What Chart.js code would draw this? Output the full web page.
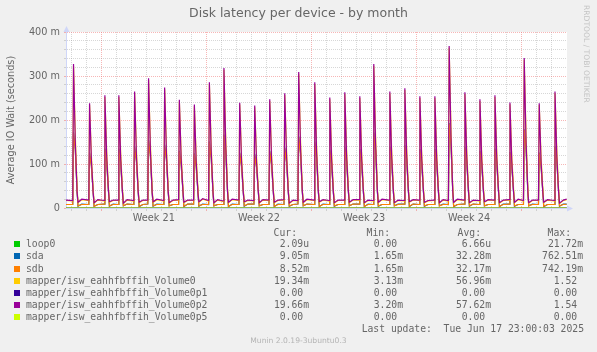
<!DOCTYPE html>
<html lang="en">
<head>
  <meta charset="UTF-8">
  <title>Disk latency per device - by month</title>
  <script src="https://cdn.jsdelivr.net/npm/chart.js"></script>
  <style>
    html, body { margin: 0; padding: 0; background: #f0f0f0; }
    #wrap { position: relative; width: 597px; height: 352px; overflow: hidden; }
    #chart { position: absolute; left: 0; top: 0; }
    .t { position: absolute; white-space: pre; color: #666; }
    #title { left: 0; width: 597px; top: 5px; text-align: center; font: 12.5px 'DejaVu Sans'; line-height: 16px; }
    #rrd { left: 580px; top: 5px; writing-mode: vertical-rl; font: 7.6px 'DejaVu Sans'; color: #c4c4c4; line-height: 12px; }
    .lg { font: 9.72px 'DejaVu Sans Mono'; line-height: 12px; height: 12px; }
    .sw { position: absolute; width: 6px; height: 6px; }
    #mark { left: 0; width: 597px; text-align: center; font: 7.6px 'DejaVu Sans'; color: #b4b4b4; line-height: 10px; top: 336px; }
  </style>
</head>
<body>
<div id="wrap">
  <canvas id="chart" width="597" height="352"></canvas>
  <div id="title" class="t">Disk latency per device - by month</div>
  <div id="rrd" class="t">RRDTOOL / TOBI OETIKER</div>
  <div id="legend"></div>
  <div id="mark" class="t">Munin 2.0.19-3ubuntu0.3</div>
</div>

<script>
  // time axis in days, 0 = Sat May 17 00:00 (grid lines at midnight)
  const axisMin = -0.35;
  const axisMax = 33.02;
  const dataStart = -0.35;
  const dataEnd = 33.0;
  const weekStarts = [2, 9, 16, 23, 30];
  const weekLabelAt = [5.5, 12.5, 19.5, 26.5];
  const weekLabels = ['Week 21', 'Week 22', 'Week 23', 'Week 24'];

  // the nightly spike, read per day (days)
  const spikeAt = [0.15, 1.22, 2.24, 3.17, 4.22, 5.15, 6.22, 7.2, 8.2, 9.2, 10.17,
    11.22, 12.22, 13.22, 14.22, 15.15, 16.22, 17.22, 18.22, 19.22, 20.15, 21.22,
    22.22, 23.22, 24.22, 25.17, 26.22, 27.22, 28.22, 29.22, 30.17, 31.17, 32.22];
  // samples around each spike: before, peak, falling, foot, low, rest of day
  const sampleOffsets = [-0.05, 0, 0.12, 0.24, 0.3, 0.55];

  // values in milliseconds, one row per day
  const volP2Rows = [
    [17, 327, 150, 36, 13, 20], [18, 238, 110, 35, 12, 19], [17, 256, 118, 38, 14, 18],
    [18, 256, 115, 36, 11, 19], [17, 265, 120, 37, 13, 18], [18, 295, 133, 35, 14, 20],
    [17, 274, 124, 36, 12, 18], [19, 246, 112, 38, 13, 18], [18, 235, 106, 35, 14, 21],
    [17, 286, 130, 37, 12, 19], [16, 318, 143, 36, 13, 20], [18, 239, 108, 35, 14, 18],
    [17, 233, 105, 37, 12, 19], [18, 247, 112, 36, 13, 18], [19, 261, 118, 35, 11, 18],
    [17, 309, 140, 38, 13, 20], [18, 286, 129, 36, 14, 19], [17, 251, 113, 35, 12, 18],
    [18, 263, 119, 37, 13, 19], [19, 254, 115, 36, 12, 18], [17, 327, 148, 38, 13, 20],
    [18, 265, 120, 35, 12, 18], [17, 272, 123, 36, 14, 19], [18, 254, 115, 37, 13, 17],
    [18, 254, 114, 35, 12, 19], [17, 368, 166, 38, 13, 20], [18, 263, 119, 36, 12, 18],
    [17, 247, 111, 35, 14, 19], [18, 256, 116, 37, 12, 18], [19, 240, 108, 36, 13, 20],
    [17, 341, 154, 38, 12, 18], [18, 238, 107, 35, 13, 19], [17, 265, 120, 36, 11, 18]
  ];
  const volP2Lead = 18, volP2Tail = 20;

  const vol0Rows = [
    [16, 323, 164, 44, 12, 19], [17, 234, 119, 43, 11, 18], [16, 252, 128, 45, 13, 17],
    [17, 252, 128, 44, 10, 18], [16, 261, 133, 44, 12, 17], [17, 291, 148, 43, 13, 19],
    [16, 270, 137, 44, 11, 17], [18, 242, 123, 45, 12, 17], [17, 231, 118, 43, 13, 20],
    [16, 282, 143, 44, 11, 18], [15, 314, 159, 44, 12, 19], [17, 235, 120, 43, 13, 17],
    [16, 229, 117, 45, 11, 18], [17, 243, 124, 44, 12, 17], [18, 257, 131, 43, 10, 17],
    [16, 305, 155, 45, 12, 19], [17, 282, 143, 44, 13, 18], [16, 247, 126, 43, 11, 17],
    [17, 259, 132, 44, 12, 18], [18, 250, 127, 44, 11, 17], [16, 323, 164, 45, 12, 19],
    [17, 261, 133, 43, 11, 17], [16, 268, 136, 44, 13, 18], [17, 250, 127, 44, 12, 16],
    [17, 250, 127, 43, 11, 18], [16, 364, 184, 45, 12, 19], [17, 259, 132, 44, 11, 17],
    [16, 243, 124, 43, 13, 18], [17, 252, 128, 44, 11, 17], [18, 236, 120, 44, 12, 19],
    [16, 337, 171, 45, 11, 17], [17, 234, 119, 43, 12, 18], [16, 261, 133, 44, 10, 17]
  ];
  const vol0Lead = 17, vol0Tail = 19;

  const sdbRows = [
    [8, 170, 131, 38, 5, 8], [8, 124, 95, 37, 4, 8], [9, 133, 102, 39, 5, 8],
    [8, 133, 102, 38, 5, 9], [8, 138, 106, 38, 4, 8], [9, 153, 118, 37, 5, 8],
    [8, 142, 110, 38, 5, 8], [8, 128, 98, 39, 4, 9], [9, 122, 94, 37, 5, 8],
    [8, 149, 114, 38, 5, 8], [8, 165, 127, 38, 4, 8], [8, 124, 96, 37, 5, 9],
    [9, 121, 93, 39, 5, 8], [8, 128, 99, 38, 4, 8], [8, 136, 104, 37, 5, 8],
    [9, 161, 124, 39, 5, 9], [8, 149, 114, 38, 4, 8], [8, 131, 100, 37, 5, 8],
    [8, 137, 105, 38, 5, 9], [9, 132, 102, 38, 4, 8], [8, 170, 131, 39, 5, 8],
    [8, 138, 106, 37, 5, 8], [9, 141, 109, 38, 4, 9], [8, 132, 102, 38, 5, 8],
    [8, 132, 102, 37, 5, 8], [8, 191, 147, 39, 4, 8], [9, 137, 105, 38, 5, 9],
    [8, 128, 99, 37, 5, 8], [8, 133, 102, 38, 4, 8], [9, 125, 96, 38, 5, 8],
    [8, 177, 136, 39, 5, 8], [8, 124, 95, 37, 4, 8], [8, 138, 106, 38, 5, 8]
  ];
  const sdbLead = 8, sdbTail = 8.5;

  const sdaRows = [
    [8, 172, 133, 37, 4, 9], [8, 126, 96, 36, 4, 8], [9, 135, 103, 38, 4, 9],
    [8, 135, 103, 37, 5, 9], [8, 140, 107, 37, 3, 8], [9, 155, 119, 36, 4, 9],
    [8, 144, 111, 37, 5, 8], [8, 130, 99, 38, 3, 9], [9, 124, 95, 36, 4, 9],
    [8, 151, 115, 37, 5, 8], [8, 167, 128, 37, 3, 9], [8, 126, 97, 36, 4, 9],
    [9, 123, 94, 38, 5, 8], [8, 130, 100, 37, 3, 9], [8, 138, 105, 36, 4, 8],
    [9, 163, 125, 38, 5, 9], [8, 151, 115, 37, 3, 9], [8, 133, 101, 36, 4, 8],
    [8, 139, 106, 37, 5, 9], [9, 134, 103, 37, 3, 9], [8, 172, 132, 38, 4, 8],
    [8, 140, 107, 36, 5, 9], [9, 143, 110, 37, 3, 9], [8, 134, 103, 37, 4, 8],
    [8, 134, 103, 36, 5, 9], [8, 193, 148, 38, 3, 8], [9, 139, 106, 37, 4, 9],
    [8, 130, 100, 36, 5, 8], [8, 135, 103, 37, 3, 9], [9, 127, 97, 37, 4, 8],
    [8, 179, 137, 38, 5, 9], [8, 126, 96, 36, 3, 8], [8, 140, 107, 37, 4, 9]
  ];
  const sdaLead = 8, sdaTail = 9;

  // loop0, Volume0p1 and Volume0p5 stay at zero the whole month
  const flatTimes = [dataStart, dataEnd];
  const flatValues = [0, 0];

  const names = ['loop0', 'sda', 'sdb', 'mapper/isw_eahhfbffih_Volume0',
    'mapper/isw_eahhfbffih_Volume0p1', 'mapper/isw_eahhfbffih_Volume0p2',
    'mapper/isw_eahhfbffih_Volume0p5'];
  const colors = ['#00CC00', '#0066B3', '#FF8000', '#FFCC00', '#330099', '#990099', '#CCFF00'];
  const curText = ['2.09u', '9.05m', '8.52m', '19.34m', '0.00', '19.66m', '0.00'];
  const minText = ['0.00', '1.65m', '1.65m', '3.13m', '0.00', '3.20m', '0.00'];
  const avgText = ['6.66u', '32.28m', '32.17m', '56.96m', '0.00', '57.62m', '0.00'];
  const maxText = ['21.72m', '762.51m', '742.19m', '1.52', '0.00', '1.54', '0.00'];
  const lastUpdate = 'Last update:  Tue Jun 17 23:00:03 2025';

  // sample times shared by the spiky series
  const times = [dataStart];
  spikeAt.forEach(t => sampleOffsets.forEach(o => times.push(t + o)));
  times.push(dataEnd);

  function pts(lead, rows, tail) {
    const ys = [lead].concat(...rows, [tail]);
    return ys.map((y, i) => ({ x: times[i], y: y }));
  }
  const flat = flatTimes.map((x, i) => ({ x: x, y: flatValues[i] }));

  const seriesData = [flat, pts(sdaLead, sdaRows, sdaTail), pts(sdbLead, sdbRows, sdbTail),
    pts(vol0Lead, vol0Rows, vol0Tail), flat, pts(volP2Lead, volP2Rows, volP2Tail), flat];

  const GRID = 'rgba(150,150,150,0.38)';
  const MGRID = 'rgba(240,110,110,0.5)';
  const AXIS = '#CFD6F8';
  const tickFont = { family: 'DejaVu Sans', size: 9.72 };

  const canvasBits = {
    id: 'canvasBits',
    beforeDraw(chart) {
      const { ctx, chartArea: a } = chart;
      ctx.save();
      ctx.fillStyle = '#F0F0F0';
      ctx.fillRect(0, 0, chart.width, chart.height);
      ctx.fillStyle = '#FFFFFF';
      ctx.fillRect(a.left, a.top, a.right - a.left, a.bottom - a.top);
      ctx.restore();
    },
    afterDraw(chart) {
      const { ctx, chartArea: a } = chart;
      ctx.save();
      ctx.fillStyle = AXIS;
      ctx.beginPath();
      ctx.moveTo(a.left + 0.5, a.top - 6);
      ctx.lineTo(a.left + 3.5, a.top);
      ctx.lineTo(a.left - 2.5, a.top);
      ctx.closePath();
      ctx.fill();
      ctx.beginPath();
      ctx.moveTo(a.right + 6, a.bottom + 0.5);
      ctx.lineTo(a.right, a.bottom + 3.5);
      ctx.lineTo(a.right, a.bottom - 2.5);
      ctx.closePath();
      ctx.fill();
      ctx.restore();
    }
  };

  const drawOrder = [7, 6, 5, 4, 3, 2, 1];

  new Chart(document.getElementById('chart').getContext('2d'), {
    type: 'line',
    data: {
      datasets: names.map((n, i) => ({
        label: n,
        data: seriesData[i],
        borderColor: colors[i],
        borderWidth: 1.2,
        pointRadius: 0,
        tension: 0,
        fill: false,
        order: drawOrder[i]
      }))
    },
    options: {
      responsive: false,
      animation: false,
      devicePixelRatio: 1,
      layout: { padding: { top: 32, right: 30, bottom: 124, left: 0 } },
      plugins: { legend: { display: false }, tooltip: { enabled: false }, title: { display: false } },
      scales: {
        x: {
          type: 'linear',
          min: axisMin,
          max: axisMax,
          afterFit: s => { s.height = 20; },
          afterBuildTicks: s => {
            const vals = [];
            for (let d = 0; d <= 32; d++) vals.push(d);
            s.ticks = vals.concat(weekLabelAt).map(v => ({ value: v }));
          },
          ticks: {
            autoSkip: false,
            maxRotation: 0,
            padding: 2,
            color: '#666',
            font: tickFont,
            callback: v => {
              const k = weekLabelAt.indexOf(v);
              return k >= 0 ? weekLabels[k] : '';
            }
          },
          grid: {
            tickLength: 3,
            lineWidth: 1,
            color: c => {
              const v = c.tick ? c.tick.value : 0;
              if (!Number.isInteger(v)) return 'rgba(0,0,0,0)';
              return weekStarts.includes(v) ? MGRID : GRID;
            }
          },
          border: { color: AXIS, dash: [1, 1] }
        },
        y: {
          min: 0,
          max: 400,
          afterFit: s => { s.width = 66; },
          ticks: {
            stepSize: 20,
            autoSkip: false,
            padding: 4,
            color: '#666',
            font: tickFont,
            callback: v => (v % 100 === 0 ? (v === 0 ? '0' : v + ' m') : '')
          },
          grid: {
            tickLength: 2,
            lineWidth: 1,
            color: c => {
              const v = c.tick ? c.tick.value : 0;
              return v % 100 === 0 ? MGRID : GRID;
            }
          },
          border: { color: AXIS, dash: [1, 1] },
          title: {
            display: true,
            text: 'Average IO Wait (seconds)',
            color: '#666',
            font: tickFont,
            padding: { top: 6, bottom: 0 }
          }
        }
      }
    },
    plugins: [canvasBits]
  });

  // legend table under the graph
  const legend = document.getElementById('legend');
  function addText(txt, left, right, centerY) {
    const el = document.createElement('div');
    el.className = 't lg';
    el.textContent = txt;
    el.style.top = (centerY - 6) + 'px';
    if (right !== null) {
      el.style.right = (597 - right) + 'px';
      el.style.textAlign = 'right';
    } else {
      el.style.left = left + 'px';
    }
    legend.appendChild(el);
  }
  const colRight = [309, 403, 491, 583];
  const headRight = [297, 390, 481, 571];
  ['Cur:', 'Min:', 'Avg:', 'Max:'].forEach((h, i) => addText(h, null, headRight[i], 232.5));
  const pad = s => (/[0-9]$/.test(s) ? s + ' ' : s);
  names.forEach((n, i) => {
    const cy = 244.3 + i * 12.1;
    const sw = document.createElement('div');
    sw.className = 'sw';
    sw.style.left = '14px';
    sw.style.top = (cy - 3) + 'px';
    sw.style.background = colors[i];
    legend.appendChild(sw);
    addText(n, 26, null, cy);
    [curText, minText, avgText, maxText].forEach((col, j) => addText(pad(col[i]), null, colRight[j], cy));
  });
  addText(lastUpdate, null, 584, 329);
</script>
</body>
</html>
